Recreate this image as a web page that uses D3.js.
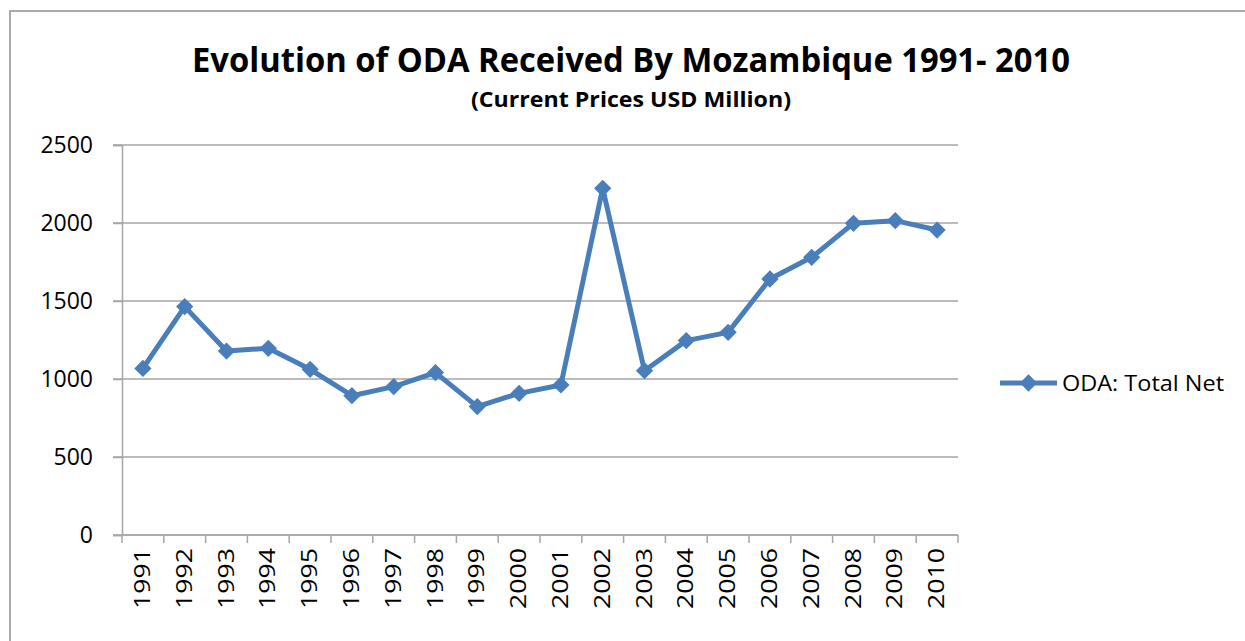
<!DOCTYPE html>
<html>
<head>
<meta charset="utf-8">
<script src="https://d3js.org/d3.v7.min.js"></script>
<style>
  body { margin: 0; background: #fff; }
  text { font-family: "Open Sans", "Liberation Sans", sans-serif; fill: #000; }
</style>
</head>
<body>
<script>
// ODA received by Mozambique, current prices USD million
const years = ["1991","1992","1993","1994","1995","1996","1997","1998","1999","2000",
               "2001","2002","2003","2004","2005","2006","2007","2008","2009","2010"];
const oda = [1068, 1464, 1179, 1197, 1062, 893, 951, 1041, 823, 908,
             962, 2222, 1053, 1246, 1299, 1641, 1780, 1998, 2015, 1955];
const yTicks = [0, 500, 1000, 1500, 2000, 2500];
const seriesName = "ODA: Total Net";

const width = 1245, height = 641;
const blue = "#4a7ebb", grid = "#a6a6a6";

const svg = d3.select("body").append("svg")
  .attr("width", width)
  .attr("height", height);

// outer chart border (runs off right/bottom)
svg.append("rect")
  .attr("x", 10).attr("y", 11)
  .attr("width", width + 20).attr("height", height + 20)
  .attr("fill", "#fff")
  .attr("stroke", "#a9a9a9")
  .attr("stroke-width", 2);

const x = d3.scaleBand().domain(years).range([122, 958]);
const y = d3.scaleLinear().domain([0, 2500]).range([535, 145]);

// gridlines
svg.append("g")
  .selectAll("line")
  .data(yTicks)
  .join("line")
  .attr("x1", 113).attr("x2", 958)
  .attr("y1", d => y(d)).attr("y2", d => y(d))
  .attr("stroke", grid)
  .attr("stroke-width", 1.5);

// y axis
const yAxis = svg.append("g")
  .attr("transform", "translate(122,0)")
  .call(d3.axisLeft(y).tickValues(yTicks).tickFormat(d3.format("d")).tickSize(9).tickPadding(20));
yAxis.select(".domain").attr("stroke", grid).attr("stroke-width", 1.5);
yAxis.selectAll(".tick line").attr("stroke", grid).attr("stroke-width", 1.5);
yAxis.selectAll(".tick text")
  .attr("font-size", 23)
  .attr("font-family", "Open Sans, sans-serif")
  .attr("fill", "#000");

// x axis, ticks on category boundaries
const xAxis = svg.append("g").attr("transform", "translate(0,535)");
xAxis.append("line")
  .attr("x1", 122).attr("x2", 958)
  .attr("stroke", grid).attr("stroke-width", 1.5);
xAxis.selectAll("line.tk")
  .data(years.concat(["end"]))
  .join("line")
  .attr("class", "tk")
  .attr("x1", (d, i) => x.range()[0] + i * x.step())
  .attr("x2", (d, i) => x.range()[0] + i * x.step())
  .attr("y1", 0).attr("y2", 8)
  .attr("stroke", grid).attr("stroke-width", 1.5);
xAxis.selectAll("text")
  .data(years)
  .join("text")
  .attr("transform", d => `translate(${x(d) + x.bandwidth() / 2 + 7},13) rotate(-90)`)
  .attr("text-anchor", "end")
  .attr("font-size", 21)
  .attr("textLength", 61)
  .attr("lengthAdjust", "spacingAndGlyphs")
  .text(d => d);

// line series
const pts = years.map((yr, i) => [x(yr) + x.bandwidth() / 2, y(oda[i])]);
svg.append("path")
  .attr("d", d3.line()(pts))
  .attr("fill", "none")
  .attr("stroke", blue)
  .attr("stroke-width", 5)
  .attr("stroke-linejoin", "round");

const diamond = d3.symbol().type(d3.symbolDiamond2).size(190);
svg.append("g")
  .selectAll("path")
  .data(pts)
  .join("path")
  .attr("transform", d => `translate(${d[0]},${d[1]})`)
  .attr("d", diamond)
  .attr("fill", blue);

// legend
const lg = svg.append("g").attr("transform", "translate(1000,383)");
lg.append("line").attr("x1", 0).attr("x2", 57)
  .attr("stroke", blue).attr("stroke-width", 5);
lg.append("path").attr("transform", "translate(28.5,0)")
  .attr("d", diamond).attr("fill", blue);
lg.append("text").attr("x", 62).attr("y", 8)
  .attr("font-size", 22)
  .attr("textLength", 162)
  .attr("lengthAdjust", "spacingAndGlyphs")
  .text(seriesName);

// titles
svg.append("text")
  .attr("x", 631).attr("y", 72)
  .attr("text-anchor", "middle")
  .attr("font-size", 34)
  .attr("font-weight", "bold")
  .attr("textLength", 878)
  .attr("lengthAdjust", "spacingAndGlyphs")
  .text("Evolution of ODA Received By Mozambique 1991- 2010");
svg.append("text")
  .attr("x", 631).attr("y", 107)
  .attr("text-anchor", "middle")
  .attr("font-size", 22)
  .attr("font-weight", "bold")
  .attr("textLength", 320)
  .attr("lengthAdjust", "spacingAndGlyphs")
  .text("(Current Prices USD Million)");
</script>
</body>
</html>
